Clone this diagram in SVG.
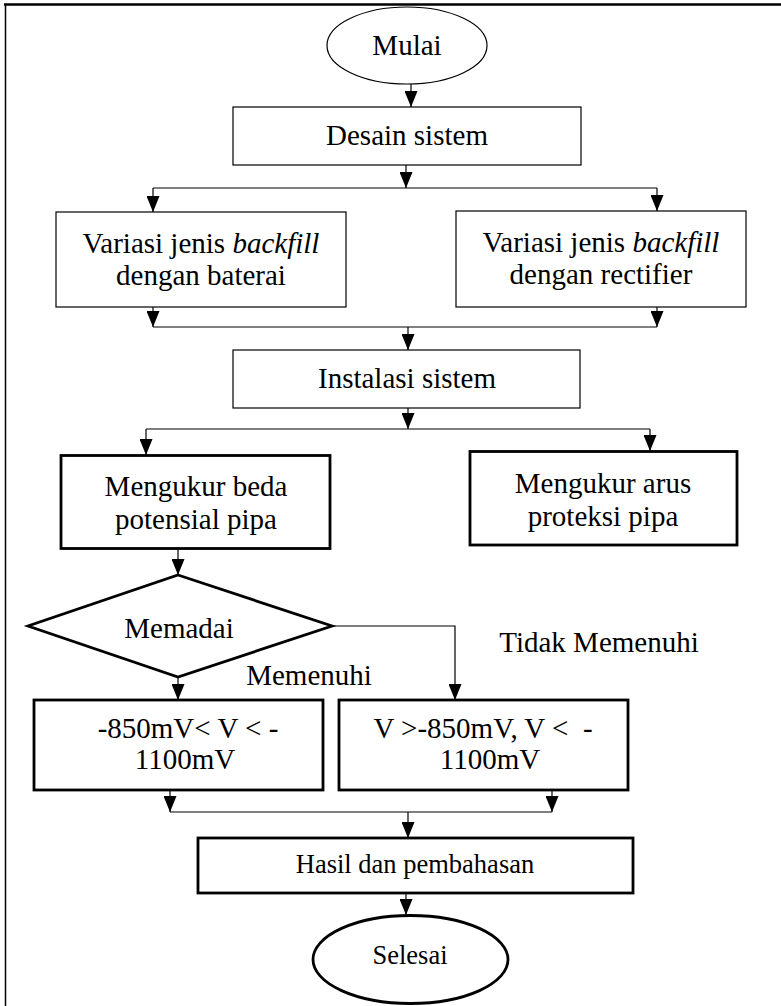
<svg xmlns="http://www.w3.org/2000/svg" width="781" height="1006" viewBox="0 0 781 1006">
<style>
.thin{fill:#fff;stroke:#000;stroke-width:1.2}
.thick{fill:#fff;stroke:#000;stroke-width:2.8}
.t{font-family:"Liberation Serif","Times New Roman",serif;font-size:29px;fill:#000;text-anchor:middle}
.s{font-size:26.5px}
.c{fill:none;stroke:#000;stroke-width:1.2}
.frame{fill:none;stroke:#000}
</style>
<defs>
<marker id="ah" viewBox="0 0 16 13" refX="16" refY="6.5" markerWidth="16" markerHeight="13" markerUnits="userSpaceOnUse" orient="auto">
<path d="M0,0 L16,6.5 L0,13 Z" fill="#000"/>
</marker>
</defs>
<rect width="781" height="1006" fill="#fff"/>
<g id="frame">
<line class="frame" x1="4" y1="4.5" x2="781" y2="4.5" stroke-width="2.5"/>
<line class="frame" x1="5.5" y1="4" x2="5.5" y2="1006" stroke-width="1.5"/>
</g>
<g id="connectors">
<line class="c" x1="411" y1="84" x2="411" y2="107" marker-end="url(#ah)"/>
<line class="c" x1="406" y1="165" x2="406" y2="188" marker-end="url(#ah)"/>
<polyline class="c" points="153,188 657,188"/>
<line class="c" x1="153" y1="188" x2="153" y2="212" marker-end="url(#ah)"/>
<line class="c" x1="657" y1="188" x2="657" y2="211" marker-end="url(#ah)"/>
<line class="c" x1="153" y1="307" x2="153" y2="327" marker-end="url(#ah)"/>
<line class="c" x1="657" y1="307" x2="657" y2="327" marker-end="url(#ah)"/>
<polyline class="c" points="153,327 657,327"/>
<line class="c" x1="408" y1="327" x2="408" y2="350" marker-end="url(#ah)"/>
<line class="c" x1="408" y1="408" x2="408" y2="429" marker-end="url(#ah)"/>
<polyline class="c" points="146,429 650,429"/>
<line class="c" x1="146" y1="429" x2="146" y2="455" marker-end="url(#ah)"/>
<line class="c" x1="650" y1="429" x2="650" y2="451" marker-end="url(#ah)"/>
<line class="c" x1="178" y1="548" x2="178" y2="575" marker-end="url(#ah)"/>
<line class="c" x1="178" y1="677" x2="178" y2="700" marker-end="url(#ah)"/>
<polyline class="c" points="332,626 455,626 455,700" marker-end="url(#ah)"/>
<line class="c" x1="170" y1="790" x2="170" y2="812" marker-end="url(#ah)"/>
<line class="c" x1="552" y1="790" x2="552" y2="812" marker-end="url(#ah)"/>
<polyline class="c" points="170,812 552,812"/>
<line class="c" x1="408" y1="812" x2="408" y2="838" marker-end="url(#ah)"/>
<line class="c" x1="406" y1="893" x2="406" y2="915" marker-end="url(#ah)"/>
</g>
<g id="mulai">
<ellipse class="thin" cx="407" cy="45.5" rx="80" ry="38.5"/>
<text class="t" x="407" y="55">Mulai</text>
</g>
<g id="desain">
<rect class="thin" x="233" y="107" width="348" height="58"/>
<text class="t" x="407" y="145">Desain sistem</text>
</g>
<g id="variasi-baterai">
<rect class="thin" x="56" y="212" width="290" height="95"/>
<text class="t" x="201" y="253">Variasi jenis <tspan font-style="italic">backfill</tspan></text>
<text class="t" x="201" y="285">dengan baterai</text>
</g>
<g id="variasi-rectifier">
<rect class="thin" x="456" y="211" width="290" height="96"/>
<text class="t" x="601" y="252">Variasi jenis <tspan font-style="italic">backfill</tspan></text>
<text class="t" x="601" y="284">dengan rectifier</text>
</g>
<g id="instalasi">
<rect class="thin" x="233" y="350" width="347" height="58"/>
<text class="t" x="407" y="388">Instalasi sistem</text>
</g>
<g id="ukur-potensial">
<rect class="thick" x="61" y="455.5" width="269" height="93"/>
<text class="t" x="196" y="496">Mengukur beda</text>
<text class="t" x="196" y="529">potensial pipa</text>
</g>
<g id="ukur-arus">
<rect class="thick" x="470" y="451.5" width="267" height="93.5"/>
<text class="t" x="603" y="493">Mengukur arus</text>
<text class="t" x="603" y="526">proteksi pipa</text>
</g>
<g id="memadai">
<polygon class="thick" points="178,575 332,626 178,677 28,626"/>
<text class="t" x="179" y="638">Memadai</text>
</g>
<g id="label-memenuhi">
<text class="t" x="309" y="685">Memenuhi</text>
</g>
<g id="label-tidak">
<text class="t" x="599" y="652">Tidak Memenuhi</text>
</g>
<g id="memenuhi-box">
<rect class="thick" x="34" y="700" width="289" height="90"/>
<text class="t" x="188" y="738">-850mV&lt; V &lt; -</text>
<text class="t" x="185" y="769">1100mV</text>
</g>
<g id="tidak-box">
<rect class="thick" x="339" y="700" width="289" height="90"/>
<text class="t" x="483" y="738" xml:space="preserve">V &gt;-850mV, V &lt;  -</text>
<text class="t" x="490" y="769">1100mV</text>
</g>
<g id="hasil">
<rect class="thick" x="198" y="838" width="435" height="55"/>
<text class="t s" x="415" y="873">Hasil dan pembahasan</text>
</g>
<g id="selesai">
<ellipse class="thick" cx="410.5" cy="959.5" rx="97.5" ry="44"/>
<text class="t s" x="410" y="964">Selesai</text>
</g>
</svg>
